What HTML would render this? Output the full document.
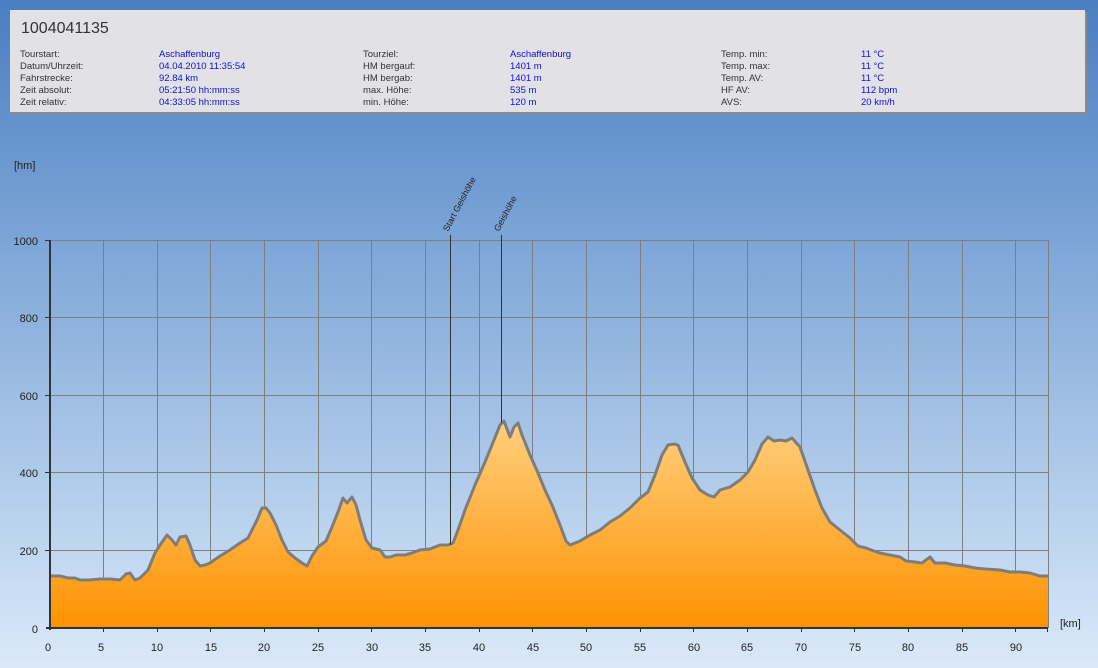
<!DOCTYPE html>
<html><head><meta charset="utf-8"><style>
body{margin:0;width:1098px;height:668px;overflow:hidden;background:linear-gradient(#4a7ec0 0%,#7ba4d6 35%,#b5cfec 75%,#dbe9f9 100%);font-family:"Liberation Sans",sans-serif;position:relative}
.panel{position:absolute;left:10px;top:10px;width:1075px;height:102px;background:#e1e1e6;box-shadow:2px 2px 0 #8a8a8a}
.title{position:absolute;left:11px;top:10px;font-size:16px;color:#333}
.col{position:absolute;top:39px;font-size:9.5px;line-height:12px;color:#333}
.v{color:#1010e0}
</style></head><body>
<div class="panel">
<div class="title">1004041135</div>
<div class="col" style="left:10px">Tourstart:<br>Datum/Uhrzeit:<br>Fahrstrecke:<br>Zeit absolut:<br>Zeit relativ:</div>
<div class="col v" style="left:149px">Aschaffenburg<br>04.04.2010 11:35:54<br>92.84 km<br>05:21:50 hh:mm:ss<br>04:33:05 hh:mm:ss</div>
<div class="col" style="left:353px">Tourziel:<br>HM bergauf:<br>HM bergab:<br>max. Höhe:<br>min. Höhe:</div>
<div class="col v" style="left:500px">Aschaffenburg<br>1401 m<br>1401 m<br>535 m<br>120 m</div>
<div class="col" style="left:711px">Temp. min:<br>Temp. max:<br>Temp. AV:<br>HF AV:<br>AVS:</div>
<div class="col v" style="left:851px">11 °C<br>11 °C<br>11 °C<br>112 bpm<br>20 km/h</div>
</div>
<svg width="1098" height="668" style="position:absolute;left:0;top:0" font-family="Liberation Sans, sans-serif">
<defs><linearGradient id="g" x1="0" y1="0" x2="0" y2="1"><stop offset="0" stop-color="#ffcf7e"/><stop offset="1" stop-color="#ff9200"/></linearGradient></defs>
<g stroke="#7f7f7f" stroke-width="1">
<line x1="50" y1="240.5" x2="1048" y2="240.5"/><line x1="50" y1="317.5" x2="1048" y2="317.5"/><line x1="50" y1="395.5" x2="1048" y2="395.5"/><line x1="50" y1="472.5" x2="1048" y2="472.5"/><line x1="50" y1="550.5" x2="1048" y2="550.5"/>
<line x1="103.5" y1="240" x2="103.5" y2="628"/><line x1="157.5" y1="240" x2="157.5" y2="628"/><line x1="210.5" y1="240" x2="210.5" y2="628"/><line x1="264.5" y1="240" x2="264.5" y2="628"/><line x1="318.5" y1="240" x2="318.5" y2="628"/><line x1="371.5" y1="240" x2="371.5" y2="628"/><line x1="425.5" y1="240" x2="425.5" y2="628"/><line x1="479.5" y1="240" x2="479.5" y2="628"/><line x1="532.5" y1="240" x2="532.5" y2="628"/><line x1="586.5" y1="240" x2="586.5" y2="628"/><line x1="640.5" y1="240" x2="640.5" y2="628"/><line x1="693.5" y1="240" x2="693.5" y2="628"/><line x1="747.5" y1="240" x2="747.5" y2="628"/><line x1="801.5" y1="240" x2="801.5" y2="628"/><line x1="854.5" y1="240" x2="854.5" y2="628"/><line x1="908.5" y1="240" x2="908.5" y2="628"/><line x1="962.5" y1="240" x2="962.5" y2="628"/><line x1="1015.5" y1="240" x2="1015.5" y2="628"/><line x1="1048.5" y1="240" x2="1048.5" y2="628"/>
</g>
<polygon fill="url(#g)" points="50,628 50,576 60,576 68,578 75,578 80,580 90,580 100,579 110,579 120,580 126,574 130,573 135,580 140,578 148,570 155,553 160,545 167,535 172,540 176,545 180,537 186,536 190,545 195,560 200,566 205,565 210,563 220,556 230,550 240,543 248,538 252,530 257,520 262,508 266,508 270,513 276,525 282,540 288,552 295,558 302,563 307,566 312,556 318,547 326,541 332,527 338,512 343,498 347,503 352,497 356,505 360,520 366,540 372,548 380,550 385,557 390,557 396,555 405,555 412,553 420,550 430,549 440,545 448,545 453,543 458,530 465,510 475,485 485,462 494,440 500,425 504,421 510,437 514,427 518,423 522,435 530,455 538,473 545,490 552,505 560,525 566,541 570,545 580,541 590,535 600,530 610,522 620,516 630,508 640,498 648,492 655,475 662,455 668,445 674,444 678,445 685,462 692,478 700,490 708,495 714,497 720,490 730,487 740,480 748,472 755,460 762,444 768,437 774,441 780,440 786,441 792,438 800,447 808,470 815,490 822,508 830,522 840,530 850,538 858,546 866,548 874,551 880,553 890,555 900,557 906,561 915,562 922,563 926,560 930,557 935,563 945,563 955,565 965,566 975,568 985,569 1000,570 1010,572 1020,572 1030,573 1040,576 1048,576 1048,628"/>
<polyline fill="none" stroke="#7d7d7d" stroke-width="3" stroke-linejoin="round" points="50,576 60,576 68,578 75,578 80,580 90,580 100,579 110,579 120,580 126,574 130,573 135,580 140,578 148,570 155,553 160,545 167,535 172,540 176,545 180,537 186,536 190,545 195,560 200,566 205,565 210,563 220,556 230,550 240,543 248,538 252,530 257,520 262,508 266,508 270,513 276,525 282,540 288,552 295,558 302,563 307,566 312,556 318,547 326,541 332,527 338,512 343,498 347,503 352,497 356,505 360,520 366,540 372,548 380,550 385,557 390,557 396,555 405,555 412,553 420,550 430,549 440,545 448,545 453,543 458,530 465,510 475,485 485,462 494,440 500,425 504,421 510,437 514,427 518,423 522,435 530,455 538,473 545,490 552,505 560,525 566,541 570,545 580,541 590,535 600,530 610,522 620,516 630,508 640,498 648,492 655,475 662,455 668,445 674,444 678,445 685,462 692,478 700,490 708,495 714,497 720,490 730,487 740,480 748,472 755,460 762,444 768,437 774,441 780,440 786,441 792,438 800,447 808,470 815,490 822,508 830,522 840,530 850,538 858,546 866,548 874,551 880,553 890,555 900,557 906,561 915,562 922,563 926,560 930,557 935,563 945,563 955,565 965,566 975,568 985,569 1000,570 1010,572 1020,572 1030,573 1040,576 1048,576"/>
<g stroke="#333" stroke-width="1"><line x1="450.5" y1="235" x2="450.5" y2="545"/><line x1="501.5" y1="235" x2="501.5" y2="423"/></g>
<g font-size="9" fill="#222"><text transform="translate(448,232) rotate(-62)">Start Geishöhe</text><text transform="translate(499,232) rotate(-62)">Geishöhe</text></g>
<g stroke="#333" stroke-width="2"><line x1="50" y1="240" x2="50" y2="630"/><line x1="46" y1="628" x2="1048" y2="628"/></g>
<g stroke="#333" stroke-width="1"><line x1="45" y1="240.5" x2="50" y2="240.5"/><line x1="45" y1="317.5" x2="50" y2="317.5"/><line x1="45" y1="395.5" x2="50" y2="395.5"/><line x1="45" y1="472.5" x2="50" y2="472.5"/><line x1="45" y1="550.5" x2="50" y2="550.5"/>
<line x1="103.5" y1="628" x2="103.5" y2="632"/><line x1="157.5" y1="628" x2="157.5" y2="632"/><line x1="210.5" y1="628" x2="210.5" y2="632"/><line x1="264.5" y1="628" x2="264.5" y2="632"/><line x1="318.5" y1="628" x2="318.5" y2="632"/><line x1="371.5" y1="628" x2="371.5" y2="632"/><line x1="425.5" y1="628" x2="425.5" y2="632"/><line x1="479.5" y1="628" x2="479.5" y2="632"/><line x1="532.5" y1="628" x2="532.5" y2="632"/><line x1="586.5" y1="628" x2="586.5" y2="632"/><line x1="640.5" y1="628" x2="640.5" y2="632"/><line x1="693.5" y1="628" x2="693.5" y2="632"/><line x1="747.5" y1="628" x2="747.5" y2="632"/><line x1="801.5" y1="628" x2="801.5" y2="632"/><line x1="854.5" y1="628" x2="854.5" y2="632"/><line x1="908.5" y1="628" x2="908.5" y2="632"/><line x1="962.5" y1="628" x2="962.5" y2="632"/><line x1="1015.5" y1="628" x2="1015.5" y2="632"/><line x1="1047.5" y1="628" x2="1047.5" y2="632"/></g>
<g font-size="11" fill="#222">
<text x="14" y="169">[hm]</text><text x="1060" y="627">[km]</text>
<g text-anchor="end"><text x="38" y="245">1000</text><text x="38" y="322">800</text><text x="38" y="400">600</text><text x="38" y="477">400</text><text x="38" y="555">200</text><text x="38" y="633">0</text></g>
<g text-anchor="middle"><text x="48" y="651">0</text><text x="101" y="651">5</text><text x="157" y="651">10</text><text x="211" y="651">15</text><text x="264" y="651">20</text><text x="318" y="651">25</text><text x="372" y="651">30</text><text x="425" y="651">35</text><text x="479" y="651">40</text><text x="533" y="651">45</text><text x="586" y="651">50</text><text x="640" y="651">55</text><text x="694" y="651">60</text><text x="747" y="651">65</text><text x="801" y="651">70</text><text x="855" y="651">75</text><text x="908" y="651">80</text><text x="962" y="651">85</text><text x="1016" y="651">90</text></g>
</g>
</svg>
</body></html>
